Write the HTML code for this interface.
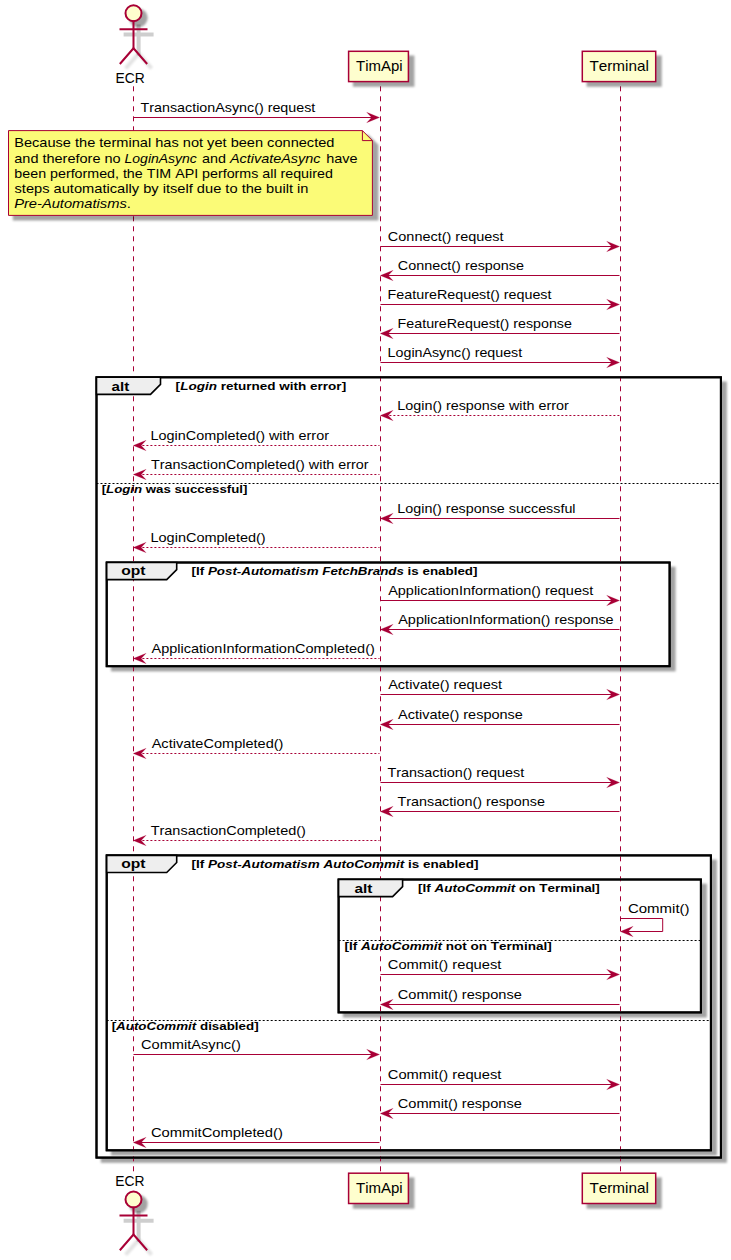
<!DOCTYPE html>
<html><head><meta charset="utf-8"><title>Sequence diagram</title>
<style>
html,body{margin:0;padding:0;background:#fff;}
svg{display:block;}
text{font-family:"Liberation Sans",sans-serif;fill:#000;font-kerning:none;}
</style></head>
<body>
<svg width="731" height="1260" viewBox="0 0 731 1260">
<defs>
<filter id="bl" x="-10%" y="-10%" width="120%" height="120%"><feGaussianBlur stdDeviation="0.8"/></filter>
<filter id="bl3" x="-30%" y="-30%" width="160%" height="160%"><feGaussianBlur stdDeviation="1.1"/></filter>
<filter id="bl2" x="-30%" y="-30%" width="160%" height="160%"><feGaussianBlur stdDeviation="0.7"/></filter>
</defs>
<rect width="731" height="1260" fill="#fff"/>
<rect x="100.80" y="381.50" width="626.10" height="781.30" fill="#000" fill-opacity="0.36" filter="url(#bl)"/>
<rect x="96.5" y="377.3" width="624.40" height="780.30" fill="#fff" stroke="#000" stroke-width="2"/>
<rect x="111.00" y="566.70" width="564.60" height="104.70" fill="#000" fill-opacity="0.36" filter="url(#bl)"/>
<rect x="106.7" y="562.5" width="562.90" height="103.70" fill="#fff" stroke="#000" stroke-width="2"/>
<rect x="111.00" y="859.60" width="605.90" height="295.90" fill="#000" fill-opacity="0.36" filter="url(#bl)"/>
<rect x="106.7" y="855.4" width="604.20" height="294.90" fill="#fff" stroke="#000" stroke-width="2"/>
<rect x="342.90" y="883.70" width="364.00" height="133.90" fill="#000" fill-opacity="0.36" filter="url(#bl)"/>
<rect x="338.6" y="879.5" width="362.30" height="132.90" fill="#fff" stroke="#000" stroke-width="2"/>
<line x1="133.5" y1="86.3" x2="133.5" y2="1172.5" stroke="#A80036" stroke-width="1" stroke-dasharray="5,5"/>
<line x1="380.5" y1="86.3" x2="380.5" y2="1172.5" stroke="#A80036" stroke-width="1" stroke-dasharray="5,5"/>
<line x1="620.5" y1="86.3" x2="620.5" y2="1172.5" stroke="#A80036" stroke-width="1" stroke-dasharray="5,5"/>
<rect x="96.5" y="377.3" width="624.40" height="780.30" fill="none" stroke="#000" stroke-width="2"/>
<polygon points="96.5,377.3 160.5,377.3 160.5,384.40 150.5,394.40 96.5,394.40" fill="#EEEEEE" stroke="#000" stroke-width="1.6"/>
<rect x="106.7" y="562.5" width="562.90" height="103.70" fill="none" stroke="#000" stroke-width="2"/>
<polygon points="106.7,562.5 176.7,562.5 176.7,569.60 166.7,579.60 106.7,579.60" fill="#EEEEEE" stroke="#000" stroke-width="1.6"/>
<rect x="106.7" y="855.4" width="604.20" height="294.90" fill="none" stroke="#000" stroke-width="2"/>
<polygon points="106.7,855.4 176.7,855.4 176.7,862.50 166.7,872.50 106.7,872.50" fill="#EEEEEE" stroke="#000" stroke-width="1.6"/>
<rect x="338.6" y="879.5" width="362.30" height="132.90" fill="none" stroke="#000" stroke-width="2"/>
<polygon points="338.6,879.5 402.6,879.5 402.6,886.60 392.6,896.60 338.6,896.60" fill="#EEEEEE" stroke="#000" stroke-width="1.6"/>
<line x1="96.5" y1="483.5" x2="720.9" y2="483.5" stroke="#000" stroke-width="1" stroke-dasharray="2,2"/>
<line x1="338.6" y1="940.5" x2="700.9" y2="940.5" stroke="#000" stroke-width="1" stroke-dasharray="2,2"/>
<line x1="106.7" y1="1020.5" x2="710.9" y2="1020.5" stroke="#000" stroke-width="1" stroke-dasharray="2,2"/>
<text x="111.56" y="391.00" font-size="13.5" font-weight="bold" textLength="17.63" lengthAdjust="spacingAndGlyphs">alt</text>
<text x="121.29" y="575.00" font-size="13.5" font-weight="bold" textLength="24.30" lengthAdjust="spacingAndGlyphs">opt</text>
<text x="121.29" y="868.00" font-size="13.5" font-weight="bold" textLength="24.30" lengthAdjust="spacingAndGlyphs">opt</text>
<text x="354.55" y="893.00" font-size="13.5" font-weight="bold" textLength="17.83" lengthAdjust="spacingAndGlyphs">alt</text>
<text x="175.64" y="389.80" font-size="11.5" textLength="170.52" lengthAdjust="spacingAndGlyphs" xml:space="preserve"><tspan font-weight="bold">[</tspan><tspan font-weight="bold" font-style="italic">Login</tspan><tspan font-weight="bold"> returned with error]</tspan></text>
<text x="101.66" y="492.70" font-size="11.5" textLength="145.69" lengthAdjust="spacingAndGlyphs" xml:space="preserve"><tspan font-weight="bold">[</tspan><tspan font-weight="bold" font-style="italic">Login</tspan><tspan font-weight="bold"> was successful]</tspan></text>
<text x="191.55" y="574.90" font-size="11.5" textLength="285.90" lengthAdjust="spacingAndGlyphs" xml:space="preserve"><tspan font-weight="bold">[If </tspan><tspan font-weight="bold" font-style="italic">Post-Automatism FetchBrands</tspan><tspan font-weight="bold"> is enabled]</tspan></text>
<text x="191.54" y="867.80" font-size="11.5" textLength="287.01" lengthAdjust="spacingAndGlyphs" xml:space="preserve"><tspan font-weight="bold">[If </tspan><tspan font-weight="bold" font-style="italic">Post-Automatism AutoCommit</tspan><tspan font-weight="bold"> is enabled]</tspan></text>
<text x="418.14" y="891.80" font-size="11.5" textLength="181.71" lengthAdjust="spacingAndGlyphs" xml:space="preserve"><tspan font-weight="bold">[If </tspan><tspan font-weight="bold" font-style="italic">AutoCommit</tspan><tspan font-weight="bold"> on Terminal]</tspan></text>
<text x="344.54" y="949.60" font-size="11.5" textLength="207.12" lengthAdjust="spacingAndGlyphs" xml:space="preserve"><tspan font-weight="bold">[If </tspan><tspan font-weight="bold" font-style="italic">AutoCommit</tspan><tspan font-weight="bold"> not on Terminal]</tspan></text>
<text x="111.65" y="1029.80" font-size="11.5" textLength="147.00" lengthAdjust="spacingAndGlyphs" xml:space="preserve"><tspan font-weight="bold">[</tspan><tspan font-weight="bold" font-style="italic">AutoCommit</tspan><tspan font-weight="bold"> disabled]</tspan></text>
<circle cx="138.4" cy="17.85" r="9.3" fill="#000" fill-opacity="0.36" filter="url(#bl)"/><g transform="translate(5.1,5.3)" stroke="#000" stroke-width="4" stroke-linecap="square" fill="none" opacity="0.19" filter="url(#bl2)"><path d="M133.5,21.25 V48.25 M120.5,29.25 H146.5"/></g><g transform="translate(5.1,5.3)" stroke="#000" stroke-width="4" stroke-linecap="butt" fill="none" opacity="0.11" filter="url(#bl3)"><path d="M133.5,48.25 L120.5,63.25 M133.5,48.25 L146.5,63.25"/></g><g stroke="#A80036" stroke-width="2" stroke-linecap="square" fill="none"><circle cx="133.5" cy="13.25" r="8" fill="#FEFECE"/><path d="M133.5,21.25 V48.25 M120.5,29.25 H146.5"/><path d="M133.5,48.25 L120.5,63.25 M133.5,48.25 L146.5,63.25"/></g>
<text x="115.47" y="82.80" font-size="14.5" textLength="29.17" lengthAdjust="spacingAndGlyphs">ECR</text>
<rect x="352.90" y="55.50" width="61.50" height="31.30" fill="#000" fill-opacity="0.36" filter="url(#bl)"/><rect x="348.6" y="51.3" width="59.8" height="30.3" fill="#FEFECE" stroke="#A80036" stroke-width="1.5"/>
<text x="356.06" y="71.40" font-size="14.5" textLength="46.54" lengthAdjust="spacingAndGlyphs">TimApi</text>
<rect x="586.60" y="55.50" width="75.10" height="31.30" fill="#000" fill-opacity="0.36" filter="url(#bl)"/><rect x="582.3" y="51.3" width="73.4" height="30.3" fill="#FEFECE" stroke="#A80036" stroke-width="1.5"/>
<text x="589.46" y="71.40" font-size="14.5" textLength="59.36" lengthAdjust="spacingAndGlyphs">Terminal</text>
<text x="115.27" y="1185.90" font-size="14.5" textLength="29.17" lengthAdjust="spacingAndGlyphs">ECR</text>
<circle cx="138.4" cy="1204.1" r="9.3" fill="#000" fill-opacity="0.36" filter="url(#bl)"/><g transform="translate(5.1,5.3)" stroke="#000" stroke-width="4" stroke-linecap="square" fill="none" opacity="0.19" filter="url(#bl2)"><path d="M133.5,1207.5 V1234.5 M120.5,1215.5 H146.5"/></g><g transform="translate(5.1,5.3)" stroke="#000" stroke-width="4" stroke-linecap="butt" fill="none" opacity="0.11" filter="url(#bl3)"><path d="M133.5,1234.5 L120.5,1249.5 M133.5,1234.5 L146.5,1249.5"/></g><g stroke="#A80036" stroke-width="2" stroke-linecap="square" fill="none"><circle cx="133.5" cy="1199.5" r="8" fill="#FEFECE"/><path d="M133.5,1207.5 V1234.5 M120.5,1215.5 H146.5"/><path d="M133.5,1234.5 L120.5,1249.5 M133.5,1234.5 L146.5,1249.5"/></g>
<rect x="352.90" y="1177.40" width="61.50" height="31.30" fill="#000" fill-opacity="0.36" filter="url(#bl)"/><rect x="348.6" y="1173.2" width="59.8" height="30.3" fill="#FEFECE" stroke="#A80036" stroke-width="1.5"/>
<text x="355.96" y="1193.30" font-size="14.5" textLength="46.75" lengthAdjust="spacingAndGlyphs">TimApi</text>
<rect x="586.60" y="1177.40" width="75.10" height="31.30" fill="#000" fill-opacity="0.36" filter="url(#bl)"/><rect x="582.3" y="1173.2" width="73.4" height="30.3" fill="#FEFECE" stroke="#A80036" stroke-width="1.5"/>
<text x="589.46" y="1193.30" font-size="14.5" textLength="59.36" lengthAdjust="spacingAndGlyphs">Terminal</text>
<polygon points="12.80,134.80 368.40,134.80 378.40,144.80 378.40,220.60 12.80,220.60" fill="#000" fill-opacity="0.36" filter="url(#bl)"/>
<polygon points="8.5,130.6 362.4,130.6 372.4,140.6 372.4,215.4 8.5,215.4" fill="#FBFB77" stroke="#A80036" stroke-width="1"/>
<path d="M362.4,130.6 V140.6 H372.4" fill="none" stroke="#A80036" stroke-width="1"/>
<text x="14.20" y="147.00" font-size="13.5" textLength="320.24" lengthAdjust="spacingAndGlyphs">Because the terminal has not yet been connected</text>
<text x="14.28" y="163.00" font-size="13.5" textLength="106.32" lengthAdjust="spacingAndGlyphs">and therefore no</text>
<text x="124.57" y="163.00" font-size="13.5" font-style="italic" textLength="72.29" lengthAdjust="spacingAndGlyphs">LoginAsync</text>
<text x="202.09" y="163.00" font-size="13.5" textLength="23.93" lengthAdjust="spacingAndGlyphs">and</text>
<text x="229.91" y="163.00" font-size="13.5" font-style="italic" textLength="90.65" lengthAdjust="spacingAndGlyphs">ActivateAsync</text>
<text x="326.20" y="163.00" font-size="13.5" textLength="31.34" lengthAdjust="spacingAndGlyphs">have</text>
<text x="14.38" y="178.00" font-size="13.5" textLength="318.44" lengthAdjust="spacingAndGlyphs">been performed, the TIM API performs all required</text>
<text x="14.49" y="193.00" font-size="13.5" textLength="293.96" lengthAdjust="spacingAndGlyphs">steps automatically by itself due to the built in</text>
<text x="14.15" y="208.00" font-size="13.5" textLength="116.69" lengthAdjust="spacingAndGlyphs" xml:space="preserve"><tspan font-style="italic">Pre-Automatisms</tspan><tspan>.</tspan></text>
<polygon points="366.70,112.30 379.55,117.50 366.70,122.70 371.60,117.50" fill="#A80036" stroke="#A80036" stroke-width="0.2" stroke-linejoin="miter" stroke-miterlimit="10"/><line x1="133.5" y1="117.5" x2="374.20" y2="117.5" stroke="#A80036" stroke-width="1"/>
<text x="140.58" y="112.10" font-size="13.5" textLength="174.73" lengthAdjust="spacingAndGlyphs">TransactionAsync() request</text>
<polygon points="606.70,241.30 619.55,246.50 606.70,251.70 611.60,246.50" fill="#A80036" stroke="#A80036" stroke-width="0.2" stroke-linejoin="miter" stroke-miterlimit="10"/><line x1="380.5" y1="246.5" x2="614.20" y2="246.5" stroke="#A80036" stroke-width="1"/>
<text x="387.87" y="241.10" font-size="13.5" textLength="115.74" lengthAdjust="spacingAndGlyphs">Connect() request</text>
<line x1="381.40" y1="275.5" x2="619.50" y2="275.5" stroke="#A80036" stroke-width="1"/><polygon points="393.10,270.30 380.25,275.50 393.10,280.70 388.20,275.50" fill="#A80036" stroke="#A80036" stroke-width="0.2" stroke-linejoin="miter" stroke-miterlimit="10"/>
<text x="397.77" y="270.10" font-size="13.5" textLength="126.27" lengthAdjust="spacingAndGlyphs">Connect() response</text>
<polygon points="606.70,299.30 619.55,304.50 606.70,309.70 611.60,304.50" fill="#A80036" stroke="#A80036" stroke-width="0.2" stroke-linejoin="miter" stroke-miterlimit="10"/><line x1="380.5" y1="304.5" x2="614.20" y2="304.5" stroke="#A80036" stroke-width="1"/>
<text x="387.63" y="299.10" font-size="13.5" textLength="163.88" lengthAdjust="spacingAndGlyphs">FeatureRequest() request</text>
<line x1="381.40" y1="333.5" x2="619.50" y2="333.5" stroke="#A80036" stroke-width="1"/><polygon points="393.10,328.30 380.25,333.50 393.10,338.70 388.20,333.50" fill="#A80036" stroke="#A80036" stroke-width="0.2" stroke-linejoin="miter" stroke-miterlimit="10"/>
<text x="397.63" y="328.10" font-size="13.5" textLength="174.30" lengthAdjust="spacingAndGlyphs">FeatureRequest() response</text>
<polygon points="606.70,357.30 619.55,362.50 606.70,367.70 611.60,362.50" fill="#A80036" stroke="#A80036" stroke-width="0.2" stroke-linejoin="miter" stroke-miterlimit="10"/><line x1="380.5" y1="362.5" x2="614.20" y2="362.5" stroke="#A80036" stroke-width="1"/>
<text x="387.63" y="357.10" font-size="13.5" textLength="134.57" lengthAdjust="spacingAndGlyphs">LoginAsync() request</text>
<line x1="381.40" y1="415.5" x2="619.50" y2="415.5" stroke="#A80036" stroke-width="1" stroke-dasharray="2,2"/><polygon points="393.10,410.30 380.25,415.50 393.10,420.70 388.20,415.50" fill="#A80036" stroke="#A80036" stroke-width="0.2" stroke-linejoin="miter" stroke-miterlimit="10"/>
<text x="397.32" y="410.10" font-size="13.5" textLength="171.41" lengthAdjust="spacingAndGlyphs">Login() response with error</text>
<line x1="134.40" y1="445.5" x2="379.50" y2="445.5" stroke="#A80036" stroke-width="1" stroke-dasharray="2,2"/><polygon points="146.10,440.30 133.25,445.50 146.10,450.70 141.20,445.50" fill="#A80036" stroke="#A80036" stroke-width="0.2" stroke-linejoin="miter" stroke-miterlimit="10"/>
<text x="150.62" y="440.10" font-size="13.5" textLength="178.32" lengthAdjust="spacingAndGlyphs">LoginCompleted() with error</text>
<line x1="134.40" y1="474.5" x2="379.50" y2="474.5" stroke="#A80036" stroke-width="1" stroke-dasharray="2,2"/><polygon points="146.10,469.30 133.25,474.50 146.10,479.70 141.20,474.50" fill="#A80036" stroke="#A80036" stroke-width="0.2" stroke-linejoin="miter" stroke-miterlimit="10"/>
<text x="150.98" y="469.10" font-size="13.5" textLength="217.66" lengthAdjust="spacingAndGlyphs">TransactionCompleted() with error</text>
<line x1="381.40" y1="518.5" x2="619.50" y2="518.5" stroke="#A80036" stroke-width="1"/><polygon points="393.10,513.30 380.25,518.50 393.10,523.70 388.20,518.50" fill="#A80036" stroke="#A80036" stroke-width="0.2" stroke-linejoin="miter" stroke-miterlimit="10"/>
<text x="397.33" y="513.10" font-size="13.5" textLength="178.23" lengthAdjust="spacingAndGlyphs">Login() response successful</text>
<line x1="134.40" y1="547.5" x2="379.50" y2="547.5" stroke="#A80036" stroke-width="1" stroke-dasharray="2,2"/><polygon points="146.10,542.30 133.25,547.50 146.10,552.70 141.20,547.50" fill="#A80036" stroke="#A80036" stroke-width="0.2" stroke-linejoin="miter" stroke-miterlimit="10"/>
<text x="150.51" y="542.10" font-size="13.5" textLength="115.19" lengthAdjust="spacingAndGlyphs">LoginCompleted()</text>
<polygon points="606.70,595.30 619.55,600.50 606.70,605.70 611.60,600.50" fill="#A80036" stroke="#A80036" stroke-width="0.2" stroke-linejoin="miter" stroke-miterlimit="10"/><line x1="380.5" y1="600.5" x2="614.20" y2="600.5" stroke="#A80036" stroke-width="1"/>
<text x="388.17" y="595.10" font-size="13.5" textLength="205.03" lengthAdjust="spacingAndGlyphs">ApplicationInformation() request</text>
<line x1="381.40" y1="629.5" x2="619.50" y2="629.5" stroke="#A80036" stroke-width="1"/><polygon points="393.10,624.30 380.25,629.50 393.10,634.70 388.20,629.50" fill="#A80036" stroke="#A80036" stroke-width="0.2" stroke-linejoin="miter" stroke-miterlimit="10"/>
<text x="398.27" y="624.10" font-size="13.5" textLength="215.37" lengthAdjust="spacingAndGlyphs">ApplicationInformation() response</text>
<line x1="134.40" y1="658.5" x2="379.50" y2="658.5" stroke="#A80036" stroke-width="1" stroke-dasharray="2,2"/><polygon points="146.10,653.30 133.25,658.50 146.10,663.70 141.20,658.50" fill="#A80036" stroke="#A80036" stroke-width="0.2" stroke-linejoin="miter" stroke-miterlimit="10"/>
<text x="151.47" y="653.10" font-size="13.5" textLength="223.33" lengthAdjust="spacingAndGlyphs">ApplicationInformationCompleted()</text>
<polygon points="606.70,689.30 619.55,694.50 606.70,699.70 611.60,694.50" fill="#A80036" stroke="#A80036" stroke-width="0.2" stroke-linejoin="miter" stroke-miterlimit="10"/><line x1="380.5" y1="694.5" x2="614.20" y2="694.5" stroke="#A80036" stroke-width="1"/>
<text x="388.17" y="689.10" font-size="13.5" textLength="113.93" lengthAdjust="spacingAndGlyphs">Activate() request</text>
<line x1="381.40" y1="724.5" x2="619.50" y2="724.5" stroke="#A80036" stroke-width="1"/><polygon points="393.10,719.30 380.25,724.50 393.10,729.70 388.20,724.50" fill="#A80036" stroke="#A80036" stroke-width="0.2" stroke-linejoin="miter" stroke-miterlimit="10"/>
<text x="398.07" y="719.10" font-size="13.5" textLength="124.87" lengthAdjust="spacingAndGlyphs">Activate() response</text>
<line x1="134.40" y1="753.5" x2="379.50" y2="753.5" stroke="#A80036" stroke-width="1" stroke-dasharray="2,2"/><polygon points="146.10,748.30 133.25,753.50 146.10,758.70 141.20,753.50" fill="#A80036" stroke="#A80036" stroke-width="0.2" stroke-linejoin="miter" stroke-miterlimit="10"/>
<text x="151.67" y="748.10" font-size="13.5" textLength="131.83" lengthAdjust="spacingAndGlyphs">ActivateCompleted()</text>
<polygon points="606.70,777.30 619.55,782.50 606.70,787.70 611.60,782.50" fill="#A80036" stroke="#A80036" stroke-width="0.2" stroke-linejoin="miter" stroke-miterlimit="10"/><line x1="380.5" y1="782.5" x2="614.20" y2="782.5" stroke="#A80036" stroke-width="1"/>
<text x="387.48" y="777.10" font-size="13.5" textLength="136.73" lengthAdjust="spacingAndGlyphs">Transaction() request</text>
<line x1="381.40" y1="811.5" x2="619.50" y2="811.5" stroke="#A80036" stroke-width="1"/><polygon points="393.10,806.30 380.25,811.50 393.10,816.70 388.20,811.50" fill="#A80036" stroke="#A80036" stroke-width="0.2" stroke-linejoin="miter" stroke-miterlimit="10"/>
<text x="397.48" y="806.10" font-size="13.5" textLength="147.46" lengthAdjust="spacingAndGlyphs">Transaction() response</text>
<line x1="134.40" y1="840.5" x2="379.50" y2="840.5" stroke="#A80036" stroke-width="1" stroke-dasharray="2,2"/><polygon points="146.10,835.30 133.25,840.50 146.10,845.70 141.20,840.50" fill="#A80036" stroke="#A80036" stroke-width="0.2" stroke-linejoin="miter" stroke-miterlimit="10"/>
<text x="150.67" y="835.10" font-size="13.5" textLength="155.22" lengthAdjust="spacingAndGlyphs">TransactionCompleted()</text>
<polygon points="606.70,969.30 619.55,974.50 606.70,979.70 611.60,974.50" fill="#A80036" stroke="#A80036" stroke-width="0.2" stroke-linejoin="miter" stroke-miterlimit="10"/><line x1="380.5" y1="974.5" x2="614.20" y2="974.5" stroke="#A80036" stroke-width="1"/>
<text x="387.75" y="969.10" font-size="13.5" textLength="113.66" lengthAdjust="spacingAndGlyphs">Commit() request</text>
<line x1="381.40" y1="1004.5" x2="619.50" y2="1004.5" stroke="#A80036" stroke-width="1"/><polygon points="393.10,999.30 380.25,1004.50 393.10,1009.70 388.20,1004.50" fill="#A80036" stroke="#A80036" stroke-width="0.2" stroke-linejoin="miter" stroke-miterlimit="10"/>
<text x="397.76" y="999.10" font-size="13.5" textLength="124.09" lengthAdjust="spacingAndGlyphs">Commit() response</text>
<polygon points="366.70,1049.30 379.55,1054.50 366.70,1059.70 371.60,1054.50" fill="#A80036" stroke="#A80036" stroke-width="0.2" stroke-linejoin="miter" stroke-miterlimit="10"/><line x1="133.5" y1="1054.5" x2="374.20" y2="1054.5" stroke="#A80036" stroke-width="1"/>
<text x="140.96" y="1049.10" font-size="13.5" textLength="99.85" lengthAdjust="spacingAndGlyphs">CommitAsync()</text>
<polygon points="606.70,1079.30 619.55,1084.50 606.70,1089.70 611.60,1084.50" fill="#A80036" stroke="#A80036" stroke-width="0.2" stroke-linejoin="miter" stroke-miterlimit="10"/><line x1="380.5" y1="1084.5" x2="614.20" y2="1084.5" stroke="#A80036" stroke-width="1"/>
<text x="387.75" y="1079.10" font-size="13.5" textLength="113.66" lengthAdjust="spacingAndGlyphs">Commit() request</text>
<line x1="381.40" y1="1113.5" x2="619.50" y2="1113.5" stroke="#A80036" stroke-width="1"/><polygon points="393.10,1108.30 380.25,1113.50 393.10,1118.70 388.20,1113.50" fill="#A80036" stroke="#A80036" stroke-width="0.2" stroke-linejoin="miter" stroke-miterlimit="10"/>
<text x="397.76" y="1108.10" font-size="13.5" textLength="124.09" lengthAdjust="spacingAndGlyphs">Commit() response</text>
<line x1="134.40" y1="1142.5" x2="379.50" y2="1142.5" stroke="#A80036" stroke-width="1"/><polygon points="146.10,1137.30 133.25,1142.50 146.10,1147.70 141.20,1142.50" fill="#A80036" stroke="#A80036" stroke-width="0.2" stroke-linejoin="miter" stroke-miterlimit="10"/>
<text x="150.95" y="1137.10" font-size="13.5" textLength="131.86" lengthAdjust="spacingAndGlyphs">CommitCompleted()</text>
<path d="M620.5,918.5 H662.7 V931.5 H625.5" fill="none" stroke="#A80036" stroke-width="1"/>
<polygon points="633.10,926.30 620.25,931.50 633.10,936.70 628.20,931.50" fill="#A80036" stroke="#A80036" stroke-width="0.2" stroke-linejoin="miter" stroke-miterlimit="10"/>
<text x="627.94" y="913.00" font-size="13.5" textLength="61.59" lengthAdjust="spacingAndGlyphs">Commit()</text>
</svg>
</body></html>
